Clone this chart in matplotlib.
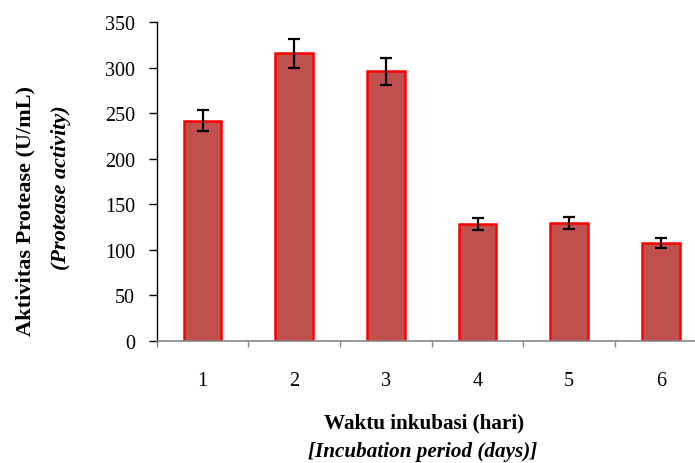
import matplotlib
matplotlib.use("Agg")
import matplotlib.pyplot as plt
import numpy as np

# Protease activity by incubation day
days = ["1", "2", "3", "4", "5", "6"]
activity = [242, 316, 296, 128, 129.5, 107]
activity_err = [12, 16, 14.5, 6.5, 7, 5.5]
y_ticks = [0, 50, 100, 150, 200, 250, 300, 350]

plt.rcParams["font.family"] = ["Liberation Serif", "DejaVu Serif"]

fig = plt.figure(figsize=(6.95, 4.64), dpi=100)
ax = fig.add_axes([0.2255, 0.2636, 0.7914, 0.6862])

x = np.arange(len(days))
ax.bar(x, activity, width=0.41, color="#C0504D", edgecolor="#FF0000",
       linewidth=1.8, zorder=2)
ax.errorbar(x, activity, yerr=activity_err, fmt="none", ecolor="black",
            elinewidth=1.6, capsize=4.2, capthick=1.6, zorder=3)

ax.set_xlim(-0.5, len(days) - 0.5)
ax.set_ylim(0, 350)
ax.set_yticks(y_ticks)
ax.set_yticklabels([str(v) for v in y_ticks], fontsize=14.5)

# category labels centered, tick marks on category boundaries
ax.set_xticks(x)
ax.set_xticklabels(days, fontsize=14.5)
ax.set_xticks(np.arange(-0.5, len(days), 1.0), minor=True)
ax.tick_params(axis="x", which="major", length=0, pad=22)
ax.tick_params(axis="x", which="minor", length=4, width=1.0,
               color="#868686", direction="out")
ax.tick_params(axis="y", length=5.5, width=1.0, direction="out", pad=10,
               color="black")

for side in ("top", "right"):
    ax.spines[side].set_visible(False)
ax.spines["bottom"].set_color("#868686")
ax.spines["bottom"].set_linewidth(1.2)
ax.spines["left"].set_color("black")
ax.spines["left"].set_linewidth(1.0)

fig.text(0.036, 1 - 211 / 464, "Aktivitas Protease (U/mL)", rotation=90,
         ha="center", va="center", fontsize=16, fontweight="bold")
fig.text(0.088, 1 - 188 / 464, "(Protease activity)", rotation=90,
         ha="center", va="center", fontsize=16, fontweight="bold",
         style="italic")

fig.text(424 / 695, 1 - 423 / 464, "Waktu inkubasi (hari)", ha="center",
         va="center", fontsize=15.2, fontweight="bold")
fig.text(423 / 695, 1 - 452 / 464, "[Incubation period (days)]", ha="center",
         va="center", fontsize=15.2, fontweight="bold", style="italic")

fig.savefig("out.png", dpi=100)
